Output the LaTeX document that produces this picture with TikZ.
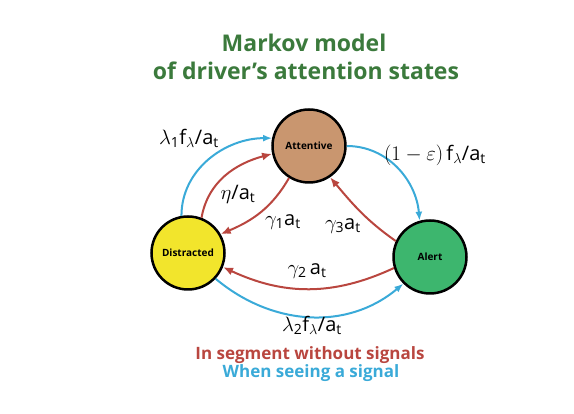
\documentclass[tikz,border=0pt]{standalone}
\usepackage{fontspec}
\usepackage{amsmath}
\setmainfont{Open Sans}
\usetikzlibrary{arrows.meta}

\definecolor{titlegreen}{HTML}{3B7A3C}
\definecolor{attcol}{HTML}{C9966F}
\definecolor{discol}{HTML}{F2E52C}
\definecolor{alecol}{HTML}{3DB66E}
\definecolor{redarr}{HTML}{B9463F}
\definecolor{bluearr}{HTML}{3AAAD8}

\tikzset{
  state/.style={circle, draw=black, line width=2.5pt, minimum size=73pt,
    inner sep=0pt, font=\fontsize{10}{12}\selectfont\bfseries},
  redline/.style={draw=redarr, line width=2pt, -{Latex[length=10pt,width=8pt]}},
  blueline/.style={draw=bluearr, line width=2pt, -{Latex[length=9pt,width=7pt]}},
  rate/.style={font=\fontsize{20}{22}\selectfont, inner sep=0pt},
  legend/.style={font=\fontsize{17}{19}\selectfont\bfseries, inner sep=0pt},
  heading/.style={font=\fontsize{23}{26}\selectfont\bfseries, text=titlegreen, inner sep=0pt},
}

\begin{document}
\begin{tikzpicture}[x=1pt, y=1pt]
        \useasboundingbox (0,0) rectangle (574,414);

        % 标题
        \node[heading, anchor=base] (title1) at (304,362) {Markov model};
        \node[heading, anchor=base] (title2) at (306,334) {of driver’s attention states};

        % 三个状态
        \node[state, fill=attcol] (att) at (309,268) {Attentive};
        \node[state, fill=discol] (dis) at (188,161) {Distracted};
        \node[state, fill=alecol] (ale) at (430,157) {Alert};

        % 看到信号 (蓝色)
        \draw[blueline] (dis.100) to[out=90, in=180] (att.168);
        \draw[blueline] (att.0) to[out=0, in=95] (ale.106);
        \draw[blueline] (dis.-43) to[out=-40, in=-140] (ale.225);

        % 无信号路段 (红色)
        \draw[redline] (dis.69) to[out=80, in=195] (att.192);
        \draw[redline] (att.238) to[out=240, in=23] (dis.30);
        \draw[redline] (ale.155) to[out=145, in=-50] (att.-56);
        \draw[redline] (ale.197) to[out=205, in=-25] (dis.-22);

        % 转移率
        \node[rate] (r1) at (189,276) {$\lambda_{\text{1}}$f$_\lambda$/a$_{\text{t}}$};
        \node[rate] (r2) at (238,220) {$\eta$/a$_{\text{t}}$};
        \node[rate] (r3) at (283,192) {$\gamma_{\text{1}}$a$_{\text{t}}$};
        \node[rate] (r4) at (343,188) {$\gamma_{\text{3}}$a$_{\text{t}}$};
        \node[rate] (r5) at (307,143) {$\gamma_{\text{2}}$\,a$_{\text{t}}$};
        \node[rate] (r6) at (312,89) {$\lambda_{\text{2}}$f$_\lambda$/a$_{\text{t}}$};
        \node[rate] (r7) at (435,259) {$(1-\varepsilon)$\,f$_\lambda$/a$_{\text{t}}$};

        % 图例
        \node[legend, text=redarr] (leg1) at (310,59) {In segment without signals};
        \node[legend, text=bluearr] (leg2) at (311,41) {When seeing a signal};
    \end{tikzpicture}
\end{document}
